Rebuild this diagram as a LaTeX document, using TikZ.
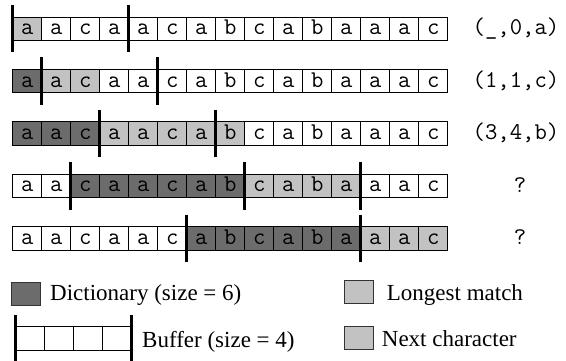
\documentclass[tikz,border=0pt]{standalone}
\usepackage{fontspec}
\setmainfont{Liberation Serif}
\definecolor{dictgray}{RGB}{108,108,108}
\definecolor{matchgray}{RGB}{194,194,194}
\begin{document}
\begin{tikzpicture}[x=1pt,y=-1pt,
  cell/.style={draw=black,line width=0.8pt,minimum width=29pt,minimum height=23.5pt,inner sep=0pt,font=\fontsize{24}{24}\ttfamily,text height=12pt,text depth=0pt},
  bar/.style={line width=3pt},
  lbl/.style={font=\fontsize{24}{24}\ttfamily,anchor=base,inner sep=0pt},
  legtxt/.style={font=\fontsize{23}{23}\selectfont,anchor=base west,inner sep=0pt},
  legbox/.style={draw=black!80,line width=1.2pt,minimum width=29pt,minimum height=23pt,inner sep=0pt}
]
\useasboundingbox (0,0) rectangle (566,361);
\def\letters{a,a,c,a,a,c,a,b,c,a,b,a,a,a,c}
% rows: index / top / dark range / light range
\foreach \r/\top/\da/\db/\la/\lb in {1/17/0/-1/1/1, 2/69.4/1/1/2/3, 3/121.8/1/3/4/8, 4/174.2/3/8/9/12, 5/226.6/7/12/13/15}{
  \foreach \ch [count=\i] in \letters {
    \pgfmathtruncatemacro\kind{(\i>=\da && \i<=\db) ? 1 : ((\i>=\la && \i<=\lb) ? 2 : 0)}
    \ifcase\kind\def\cf{white}\or\def\cf{dictgray}\or\def\cf{matchgray}\fi
    \node[cell,fill=\cf] (c\r-\i) at ({12.8+(\i-0.5)*29},{\top+11.75}) {\ch};
  }
}
% window bars
\foreach \k in {0,4} \draw[bar] ({12.8+\k*29},5) -- ++(0,47.5);
\foreach \k in {1,5} \draw[bar] ({12.8+\k*29},57.4) -- ++(0,47.5);
\foreach \k in {3,7} \draw[bar] ({12.8+\k*29},109.8) -- ++(0,47.5);
\foreach \k in {2,8,12} \draw[bar] ({12.8+\k*29},162.2) -- ++(0,47.5);
\foreach \k in {6,12} \draw[bar] ({12.8+\k*29},214.6) -- ++(0,47.5);
% outputs
\node[lbl] (t1) at (516,35) {(\_,0,a)};
\node[lbl] (t2) at (516,87.4) {(1,1,c)};
\node[lbl] (t3) at (516,139.8) {(3,4,b)};
\node[lbl] (t4) at (520,192.2) {?};
\node[lbl] (t5) at (520,244.6) {?};
% legend
\node[legbox,fill=dictgray] (kd) at (26.2,293.7) {};
\node[legtxt] (kdt) at (50,300.7) {Dictionary (size = 6)};
\node[legbox,fill=matchgray] (kl) at (358.7,291.7) {};
\node[legtxt] (klt) at (386.7,300.5) {Longest match};
\node[legbox,fill=matchgray] (kn) at (358.7,338.3) {};
\node[legtxt] (knt) at (381.7,346.7) {Next character};
\foreach \i in {1,...,4}
  \node[cell,minimum height=24pt] (kb\i) at ({15+(\i-0.5)*29},338) {};
\draw[bar] (15,315) -- (15,361);
\draw[bar] (131,315) -- (131,361);
\node[legtxt] (kbt) at (142,347) {Buffer (size = 4)};
\end{tikzpicture}
\end{document}
